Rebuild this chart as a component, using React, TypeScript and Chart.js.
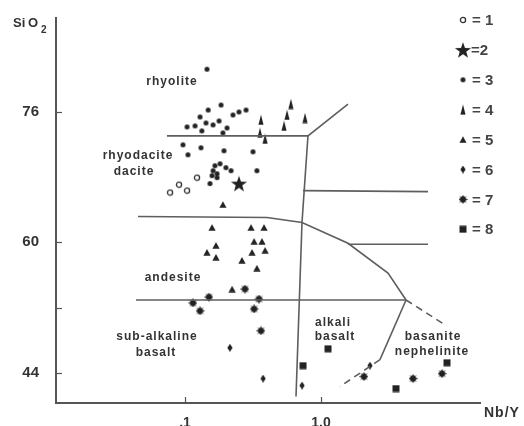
import { useEffect, useRef } from 'react';
import { Chart, registerables } from 'chart.js';

Chart.register(...registerables);

// ---- axis ticks ----
const xTicks = [0.1, 1];
const xTickLabels = ['.1', '1.0'];
const yTicks = [44, 52, 60, 76];
const yTickLabels = ['44', '', '60', '76'];

// ---- sample groups (Nb/Y, SiO2) ----
const group1 = [[0.1225, 67.93], [0.0903, 67.07], [0.1035, 66.34], [0.0776, 66.1]];
const group2 = [[0.2495, 67.2]];
const group3 = [
  [0.145, 81.22], [0.184, 76.83], [0.148, 76.22], [0.129, 75.37], [0.1035, 74.15],
  [0.1185, 74.27], [0.133, 73.66], [0.1427, 74.63], [0.1607, 74.39], [0.178, 74.88],
  [0.2037, 74.02], [0.19, 73.41], [0.2254, 75.61], [0.2495, 75.98], [0.281, 76.22],
  [0.0966, 71.95], [0.1052, 70.73], [0.131, 71.59], [0.1935, 71.22], [0.316, 71.1],
  [0.338, 68.78], [0.181, 69.63], [0.166, 69.39], [0.2, 69.15], [0.218, 68.78],
  [0.161, 68.78], [0.172, 68.41], [0.158, 68.17], [0.172, 67.93], [0.1527, 67.2],
];
const group4 = [[0.362, 75.0], [0.356, 73.41], [0.388, 72.68], [0.601, 76.95], [0.5625, 75.61], [0.535, 74.27], [0.763, 75.24]];
const group5 = [
  [0.19, 64.63], [0.158, 61.83], [0.306, 61.83], [0.381, 61.83], [0.169, 59.63],
  [0.145, 58.78], [0.169, 58.17], [0.322, 60.12], [0.368, 60.12], [0.311, 58.78],
  [0.388, 59.02], [0.2625, 57.8], [0.338, 56.83], [0.222, 54.27],
];
const group6 = [[0.214, 47.07], [0.375, 43.29], [0.725, 42.44], [2.29, 44.88]];
const group7 = [[0.276, 54.27], [0.15, 53.29], [0.35, 53.05], [0.1145, 52.56], [0.129, 51.59], [0.322, 51.83], [0.362, 49.15], [2.07, 43.54], [4.75, 43.29], [7.76, 43.9]];
const group8 = [[1.126, 46.95], [0.738, 44.88], [3.56, 42.07], [8.44, 45.24]];
const groupNames = ['1', '2', '3', '4', '5', '6', '7', '8'];

// ---- field boundaries (Nb/Y, SiO2) ----
const rhyoliteLine = [[0.0737, 73.05], [0.802, 73.05], [1.579, 76.95]];
const nbyDivide = [[0.802, 73.05], [0.725, 62.44], [0.655, 41.1]];
const upperRightLine = [[0.737, 66.34], [6.12, 66.22]];
const andesiteTopCurve = [[0.0451, 63.17], [0.401, 63.05], [0.725, 62.44], [1.579, 59.88], [3.11, 56.22], [4.22, 52.93]];
const midRightLine = [[1.579, 59.76], [6.12, 59.76]];
const andesiteBase = [[0.0436, 52.93], [4.22, 52.93]];
const basaniteSolid = [[4.22, 52.93], [2.715, 45.61]];
const basaniteDashLow = [[2.715, 45.61], [1.379, 42.32]];
const basaniteDashHigh = [[4.22, 52.93], [8.16, 49.88]];

const fieldLabels: [string, number, number][] = [
  ['rhyolite', 172, 82],
  ['rhyodacite', 138, 156],
  ['dacite', 134, 172],
  ['andesite', 173, 278],
  ['sub-alkaline', 157, 337],
  ['basalt', 156, 353],
  ['alkali', 333, 323],
  ['basalt', 335, 337],
  ['basanite', 433, 337],
  ['nephelinite', 432, 352],
];

const INK = '#222';

function makeSymbol(kind: number): HTMLCanvasElement {
  const c = document.createElement('canvas');
  const sizes: [number, number][] = [[8, 8], [18, 18], [7, 7], [6, 11], [8, 7], [6, 8], [9, 9], [8, 8]];
  const [w, h] = sizes[kind];
  c.width = w;
  c.height = h;
  const ctx = c.getContext('2d')!;
  ctx.fillStyle = INK;
  ctx.strokeStyle = INK;
  ctx.beginPath();
  if (kind === 0) {
    ctx.arc(4, 4, 2.6, 0, Math.PI * 2);
    ctx.fillStyle = '#fff';
    ctx.fill();
    ctx.lineWidth = 1.3;
    ctx.strokeStyle = '#333';
    ctx.stroke();
  } else if (kind === 1) {
    for (let i = 0; i < 10; i++) {
      const r = i % 2 === 0 ? 8.5 : 3.4;
      const a = -Math.PI / 2 + (i * Math.PI) / 5;
      const px = 9 + r * Math.cos(a);
      const py = 9.8 + r * Math.sin(a);
      if (i === 0) ctx.moveTo(px, py);
      else ctx.lineTo(px, py);
    }
    ctx.closePath();
    ctx.fill();
  } else if (kind === 2) {
    ctx.arc(3.5, 3.5, 2.5, 0, Math.PI * 2);
    ctx.fill();
  } else if (kind === 3) {
    ctx.moveTo(3, 0.3);
    ctx.lineTo(5.6, 10.5);
    ctx.lineTo(0.4, 10.5);
    ctx.closePath();
    ctx.fill();
  } else if (kind === 4) {
    ctx.moveTo(4, 0.3);
    ctx.lineTo(7.6, 6.7);
    ctx.lineTo(0.4, 6.7);
    ctx.closePath();
    ctx.fill();
  } else if (kind === 5) {
    ctx.moveTo(3, 0);
    ctx.lineTo(5.6, 4);
    ctx.lineTo(3, 8);
    ctx.lineTo(0.4, 4);
    ctx.closePath();
    ctx.fill();
  } else if (kind === 6) {
    ctx.arc(4.5, 4.5, 2.9, 0, Math.PI * 2);
    ctx.fill();
    ctx.lineWidth = 0.9;
    for (let i = 0; i < 8; i++) {
      const a = (i * Math.PI) / 4;
      ctx.moveTo(4.5, 4.5);
      ctx.lineTo(4.5 + 4.2 * Math.cos(a), 4.5 + 4.2 * Math.sin(a));
    }
    ctx.stroke();
  } else {
    ctx.fillRect(0.5, 0.5, 7, 7);
  }
  return c;
}

const toXY = (arr: number[][]) => arr.map(([x, y]) => ({ x, y }));

export default function App() {
  const ref = useRef<HTMLCanvasElement>(null);

  useEffect(() => {
    document.body.style.margin = '0';
    document.body.style.overflow = 'hidden';
    const canvas = ref.current!;
    const symbols = [0, 1, 2, 3, 4, 5, 6, 7].map(makeSymbol);
    const groups = [group1, group2, group3, group4, group5, group6, group7, group8];

    const pointSets = groups.map((g, i) => ({
      label: groupNames[i],
      data: toXY(g),
      pointStyle: symbols[i] as any,
      pointRadius: 3,
      pointHoverRadius: 3,
      showLine: false,
    }));

    const lineSet = (d: number[][], dash: number[] = []) => ({
      label: '',
      data: toXY(d),
      showLine: true,
      borderColor: '#5e5e5e',
      borderWidth: 1.6,
      borderDash: dash,
      pointRadius: 0,
      pointHoverRadius: 0,
      tension: 0,
      fill: false,
    });

    const lineSets = [
      lineSet(rhyoliteLine),
      lineSet(nbyDivide),
      lineSet(upperRightLine),
      lineSet(andesiteTopCurve),
      lineSet(midRightLine),
      lineSet(andesiteBase),
      lineSet(basaniteSolid),
      lineSet(basaniteDashLow, [7, 5]),
      lineSet(basaniteDashHigh, [7, 5]),
    ];

    const overlay = {
      id: 'overlay',
      afterDraw(chart: any) {
        const ctx = chart.ctx as CanvasRenderingContext2D;
        const xs = chart.scales.x;
        const ys = chart.scales.y;
        const area = chart.chartArea;
        ctx.save();
        // inner tick marks
        ctx.strokeStyle = '#555';
        ctx.lineWidth = 1.2;
        yTicks.forEach((v) => {
          const py = Math.round(ys.getPixelForValue(v)) + 0.5;
          ctx.beginPath();
          ctx.moveTo(area.left, py);
          ctx.lineTo(area.left + 6, py);
          ctx.stroke();
        });
        xTicks.forEach((v) => {
          const px = Math.round(xs.getPixelForValue(v)) + 0.5;
          ctx.beginPath();
          ctx.moveTo(px, area.bottom);
          ctx.lineTo(px, area.bottom - 6);
          ctx.stroke();
        });
        // field labels
        ctx.fillStyle = '#333';
        ctx.font = 'bold 12px "Liberation Sans", Arial, sans-serif';
        (ctx as any).letterSpacing = '1px';
        ctx.textAlign = 'center';
        ctx.textBaseline = 'middle';
        fieldLabels.forEach(([t, x, y]) => ctx.fillText(t, x, y));
        // axis titles
        ctx.fillStyle = '#333';
        ctx.textAlign = 'left';
        ctx.font = 'bold 13px "Liberation Sans", Arial, sans-serif';
        (ctx as any).letterSpacing = '0px';
        ctx.fillText('Si', 13, 23);
        ctx.fillText('O', 28, 23);
        ctx.font = 'bold 10px "Liberation Sans", Arial, sans-serif';
        ctx.fillText('2', 41, 30);
        ctx.font = 'bold 14px "Liberation Sans", Arial, sans-serif';
        (ctx as any).letterSpacing = '1px';
        ctx.fillText('Nb/Y', 484, 413);
        // legend
        (ctx as any).letterSpacing = '0px';
        ctx.font = 'bold 15px "Liberation Sans", Arial, sans-serif';
        ctx.fillStyle = '#444';
        groupNames.forEach((n, i) => {
          const cy = 20 + i * 29.9;
          const s = symbols[i];
          ctx.drawImage(s, 463 - s.width / 2, cy - s.height / 2);
          ctx.fillText(i === 1 ? '=' + n : '= ' + n, i === 1 ? 471 : 472, cy + 1);
        });
        ctx.restore();
      },
    };

    const chart = new Chart(canvas, {
      type: 'scatter',
      data: { datasets: [...lineSets, ...pointSets] as any },
      options: {
        animation: false,
        responsive: false,
        devicePixelRatio: 1,
        events: [],
        layout: { padding: { left: 0, right: 44, top: 16, bottom: 0 } },
        plugins: { legend: { display: false }, tooltip: { enabled: false } },
        scales: {
          x: {
            type: 'logarithmic',
            min: 0.01126,
            max: 14.76,
            grid: { display: false },
            border: { display: true, color: '#555', width: 2 },
            afterBuildTicks: (s: any) => {
              s.ticks = xTicks.map((v) => ({ value: v }));
            },
            afterFit: (s: any) => {
              s.height = 23;
            },
            ticks: {
              autoSkip: false,
              maxRotation: 0,
              padding: 4,
              color: '#333',
              font: { family: '"Liberation Sans", Arial, sans-serif', size: 14, weight: 'bold' },
              callback: (v: any) => {
                const i = xTicks.indexOf(Number(v));
                return i >= 0 ? xTickLabels[i] : '';
              },
            },
          },
          y: {
            type: 'linear',
            min: 40.3,
            max: 87.5,
            grid: { display: false },
            border: { display: true, color: '#555', width: 2 },
            afterBuildTicks: (s: any) => {
              s.ticks = yTicks.map((v) => ({ value: v }));
            },
            afterFit: (s: any) => {
              s.width = 56;
            },
            ticks: {
              autoSkip: false,
              padding: 9,
              color: '#333',
              font: { family: '"Liberation Sans", Arial, sans-serif', size: 15, weight: 'bold' },
              callback: (v: any) => {
                const i = yTicks.indexOf(Number(v));
                return i >= 0 ? yTickLabels[i] : '';
              },
            },
          },
        },
      } as any,
      plugins: [overlay],
    });

    return () => chart.destroy();
  }, []);

  return (
    <div style={{ width: 524, height: 426, background: '#fff' }}>
      <canvas ref={ref} width={524} height={426} style={{ display: 'block', width: 524, height: 426 }} />
    </div>
  );
}
